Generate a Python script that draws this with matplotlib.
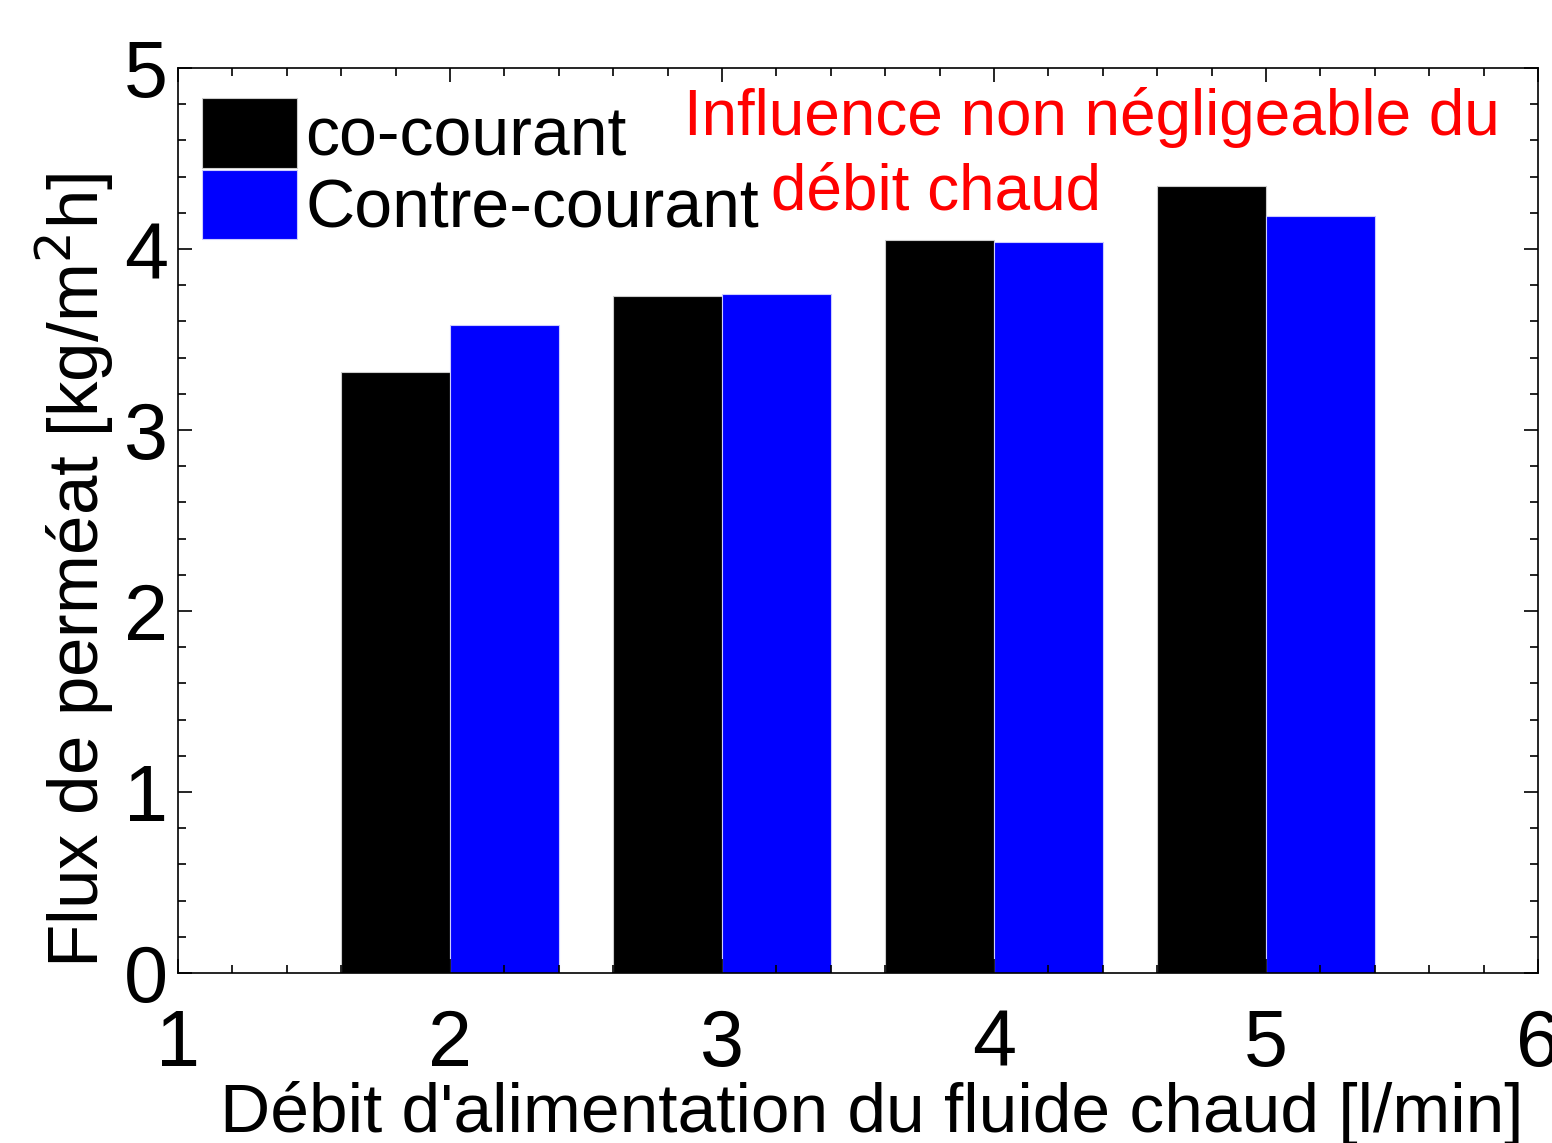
import matplotlib.pyplot as plt
import numpy as np
from matplotlib.ticker import MultipleLocator

plt.rcParams['font.family'] = ['Liberation Sans', 'DejaVu Sans']

# data
debit = [2, 3, 4, 5]
co_courant = [3.32, 3.74, 4.05, 4.35]
contre_courant = [3.58, 3.75, 4.04, 4.18]

fig = plt.figure(figsize=(15.52, 11.43), dpi=100)
ax = fig.add_axes([0.1147, 0.1487, 0.8763, 0.7918])

x = np.array(debit)
w = 0.4
ax.bar(x - w / 2, co_courant, width=w, color='black', edgecolor='#cccccc', linewidth=0.8, label='co-courant')
ax.bar(x + w / 2, contre_courant, width=w, color='#0000ff', edgecolor='#ccccff', linewidth=0.8, label='Contre-courant')

ax.set_xlim(1, 6)
ax.set_ylim(0, 5)
ax.xaxis.set_major_locator(MultipleLocator(1))
ax.xaxis.set_minor_locator(MultipleLocator(0.2))
ax.yaxis.set_major_locator(MultipleLocator(1))
ax.yaxis.set_minor_locator(MultipleLocator(0.2))
ax.tick_params(which='both', direction='in', top=True, right=True, width=1.2)
ax.tick_params(which='major', length=10, labelsize=57)
ax.tick_params(which='minor', length=6)
ax.tick_params(axis='x', pad=25)
ax.tick_params(axis='y', pad=7)
for s in ax.spines.values():
    s.set_linewidth(1.2)

ax.set_xlabel("Débit d'alimentation du fluide chaud [l/min]", fontsize=50, va='center')
ax.xaxis.set_label_coords(0.51, -0.155)
ax.set_ylabel("Flux de perméat [kg/m$^2$h]", fontsize=51, va='center')
ax.yaxis.set_label_coords(-0.076, 0.445)

ax.legend(loc='upper left', fontsize=49, frameon=False, handlelength=1.4, handleheight=1.2,
          labelspacing=0.0, handletextpad=0.12, borderpad=0.0, borderaxespad=0.0,
          bbox_to_anchor=(0.0176, 0.967))

ax.text(0.672, 0.945, "Influence non négligeable du", transform=ax.transAxes, color='red',
        fontsize=46, ha='center', va='center')
ax.text(0.557, 0.862, "débit chaud", transform=ax.transAxes, color='red',
        fontsize=46, ha='center', va='center')

fig.savefig('out.png', dpi=100)
